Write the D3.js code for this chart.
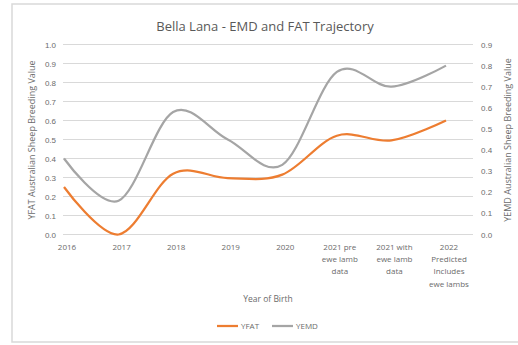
<!DOCTYPE html>
<html>
<head>
<meta charset="utf-8">
<script src="https://cdn.jsdelivr.net/npm/d3@7"></script>
<style>
  html, body { margin: 0; padding: 0; background: #fff; }
  svg { display: block; font-family: "Open Sans", "Liberation Sans", sans-serif; }
</style>
</head>
<body>
<svg id="viz" width="518" height="345"></svg>
<script>
  const categories = [
    ['2016'], ['2017'], ['2018'], ['2019'], ['2020'],
    ['2021 pre', 'ewe lamb', 'data'],
    ['2021 with', 'ewe lamb', 'data'],
    ['2022', 'Predicted', 'Includes', 'ewe lambs']
  ];
  const yfat = [0.25, 0.0, 0.32, 0.297, 0.315, 0.52, 0.495, 0.60];
  const yemd = [0.36, 0.16, 0.58, 0.45, 0.33, 0.77, 0.70, 0.80];
  const leftTicks = [0, 0.1, 0.2, 0.3, 0.4, 0.5, 0.6, 0.7, 0.8, 0.9, 1.0];
  const rightTicks = [0, 0.1, 0.2, 0.3, 0.4, 0.5, 0.6, 0.7, 0.8, 0.9];

  const textCol = '#6b6b6b';
  const svg = d3.select('#viz');

  // chart frame
  svg.append('rect')
    .attr('x', 12).attr('y', 4).attr('width', 520).attr('height', 338)
    .attr('fill', '#fff').attr('stroke', '#d9d9d9').attr('stroke-width', 1.5);

  const keys = categories.map((c, i) => i);
  const x = d3.scalePoint().domain(keys).range([64, 446]);
  const yL = d3.scaleLinear().domain([0, 1]).range([234.5, 44.5]);
  const yR = d3.scaleLinear().domain([0, 0.9]).range([234.5, 44.5]);

  // gridlines
  svg.append('g').selectAll('line').data(leftTicks).join('line')
    .attr('x1', 63).attr('x2', 473)
    .attr('y1', d => yL(d)).attr('y2', d => yL(d))
    .attr('stroke', '#d9d9d9').attr('stroke-width', 1);

  // left axis
  const gl = svg.append('g').attr('transform', 'translate(56,0)')
    .call(d3.axisLeft(yL).tickValues(leftTicks).tickFormat(d3.format('.1f')).tickSize(0).tickPadding(0));
  gl.select('.domain').remove();
  gl.selectAll('text').attr('fill', textCol).style('font-size', '8px');

  // right axis
  const gr = svg.append('g').attr('transform', 'translate(481,0)')
    .call(d3.axisRight(yR).tickValues(rightTicks).tickFormat(d3.format('.1f')).tickSize(0).tickPadding(0));
  gr.select('.domain').remove();
  gr.selectAll('text').attr('fill', textCol).style('font-size', '8px');

  // x labels
  const xl = svg.append('g').selectAll('text').data(categories).join('text')
    .attr('text-anchor', 'middle')
    .attr('fill', textCol)
    .style('font-size', '8px');
  xl.each(function(lines, i) {
    d3.select(this).selectAll('tspan').data(lines).join('tspan')
      .attr('x', x(i) + 3)
      .attr('y', (d, j) => 250 + j * 12.2)
      .text(d => d);
  });

  // lines
  const line = yScale => d3.line()
    .x((d, i) => x(i))
    .y(d => yScale(d))
    .curve(d3.curveCardinal.tension(0));

  svg.append('path').datum(yemd)
    .attr('d', line(yR))
    .attr('fill', 'none').attr('stroke', '#a5a5a5').attr('stroke-width', 2.25);
  svg.append('path').datum(yfat)
    .attr('d', line(yL))
    .attr('fill', 'none').attr('stroke', '#ed7d31').attr('stroke-width', 2.25);

  // titles
  svg.append('text').attr('x', 265).attr('y', 31).attr('text-anchor', 'middle')
    .attr('fill', '#595959').style('font-size', '13px')
    .text('Bella Lana - EMD and FAT Trajectory');

  svg.append('text').attr('x', 268).attr('y', 302).attr('text-anchor', 'middle')
    .attr('fill', textCol).style('font-size', '8.5px').text('Year of Birth');

  svg.append('text').attr('transform', 'translate(35,140) rotate(-90)')
    .attr('text-anchor', 'middle').attr('fill', textCol).style('font-size', '9px')
    .text('YFAT Australian Sheep Breeding Value');

  svg.append('text').attr('transform', 'translate(511,140) rotate(-90)')
    .attr('text-anchor', 'middle').attr('fill', textCol).style('font-size', '9px')
    .text('YEMD Australian Sheep Breeding Value');

  // legend
  const legend = [
    { name: 'YFAT', color: '#ed7d31', x: 217 },
    { name: 'YEMD', color: '#a5a5a5', x: 272 }
  ];
  const lg = svg.append('g').selectAll('g').data(legend).join('g')
    .attr('transform', d => `translate(${d.x},326)`);
  lg.append('line').attr('x1', 0).attr('x2', 21).attr('y1', 0).attr('y2', 0)
    .attr('stroke', d => d.color).attr('stroke-width', 2.25);
  lg.append('text').attr('x', 24).attr('y', 3).attr('fill', textCol)
    .style('font-size', '8px').text(d => d.name);
</script>
</body>
</html>
